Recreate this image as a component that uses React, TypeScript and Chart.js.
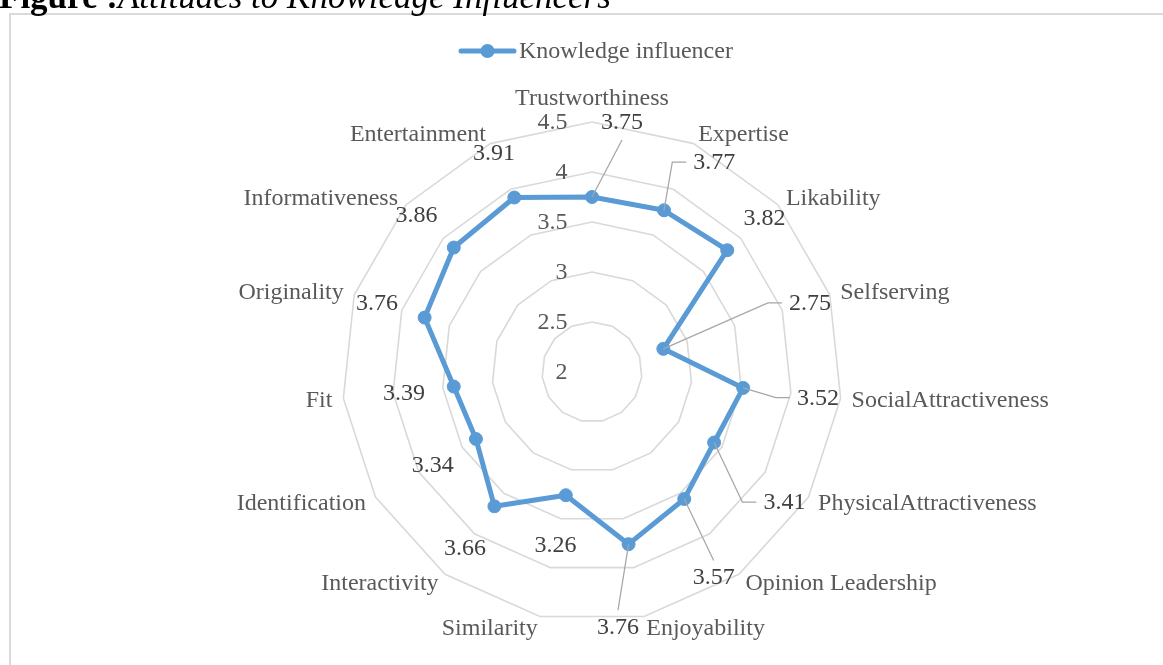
import React, { useEffect, useRef } from "react";
import { Chart, registerables } from "chart.js";

Chart.register(...registerables);

const categories = [
  "Trustworthiness",
  "Expertise",
  "Likability",
  "Selfserving",
  "SocialAttractiveness",
  "PhysicalAttractiveness",
  "Opinion Leadership",
  "Enjoyability",
  "Similarity",
  "Interactivity",
  "Identification",
  "Fit",
  "Originality",
  "Informativeness",
  "Entertainment",
];

const values = [3.75, 3.77, 3.82, 2.75, 3.52, 3.41, 3.57, 3.76, 3.26, 3.66, 3.34, 3.39, 3.76, 3.86, 3.91];

const seriesName = "Knowledge influencer";

const tickValues = [2, 2.5, 3, 3.5, 4, 4.5];

// pixel nudges of the data labels that were dragged away (they get leader lines)
const labelNudges = [
  [30, -26], [30, -3], [0, 0], [99, -31], [25, 4], [27, 34], [0, 37], [-21, 33],
  [0, 0], [0, 0], [0, 0], [0, 0], [0, 0], [0, 0], [0, 0],
];

const FONT = '"Liberation Serif", "Times New Roman", serif';
const SERIES_COLOR = "#5b9bd5";
const GRID_COLOR = "#d9d9d9";
const TEXT_COLOR = "#595959";
const VALUE_COLOR = "#404040";
const LEADER_COLOR = "#a6a6a6";

const overlay = {
  id: "overlay",
  afterDatasetsDraw(chart: any) {
    const ctx = chart.ctx as CanvasRenderingContext2D;
    const scale = chart.scales.r;
    const cx = scale.xCenter;
    const cy = scale.yCenter;
    const n = categories.length;
    ctx.save();

    // tick labels
    ctx.font = `24px ${FONT}`;
    ctx.fillStyle = TEXT_COLOR;
    ctx.textAlign = "right";
    ctx.textBaseline = "middle";
    tickValues.forEach((v) => {
      const r = scale.getDistanceFromCenterForValue(v);
      ctx.fillText(String(v), cx - 24.5, cy - r + 1);
    });

    // category labels
    categories.forEach((name, i) => {
      const angle = (i * 360) / n;
      const p = scale.getPointPosition(i, scale.drawingArea + 11);
      let y = p.y;
      if (angle === 0) {
        ctx.textAlign = "center";
        y -= 13;
      } else if (angle === 180) {
        ctx.textAlign = "center";
        y += 13;
      } else if (angle < 180) {
        ctx.textAlign = "left";
      } else {
        ctx.textAlign = "right";
      }
      ctx.fillStyle = TEXT_COLOR;
      ctx.fillText(name, p.x, y + 1);
    });

    // data labels with leader lines
    const meta = chart.getDatasetMeta(0);
    values.forEach((v, i) => {
      const pt = meta.data[i];
      const base = scale.getPointPosition(i, scale.getDistanceFromCenterForValue(v) + 50);
      const [nx, ny] = labelNudges[i];
      const lx = base.x + nx;
      const ly = base.y + ny + 1.5;
      const text = v.toFixed(2);
      ctx.font = `24px ${FONT}`;
      const w = ctx.measureText(text).width;
      if (nx !== 0 || ny !== 0) {
        const dx = lx - pt.x;
        const dy = ly - pt.y;
        ctx.strokeStyle = LEADER_COLOR;
        ctx.lineWidth = 1.25;
        ctx.beginPath();
        if (Math.abs(dx) > Math.abs(dy)) {
          const s = Math.sign(dx);
          const sx = lx - s * (w / 2 + 7);
          const sy = ly - 1;
          ctx.moveTo(sx, sy);
          ctx.lineTo(sx - s * 14, sy);
          ctx.lineTo(pt.x, pt.y);
        } else {
          const s = Math.sign(dy);
          ctx.moveTo(lx, ly - s * 17.5);
          ctx.lineTo(pt.x, pt.y);
        }
        ctx.stroke();
      }
      ctx.fillStyle = VALUE_COLOR;
      ctx.textAlign = "center";
      ctx.textBaseline = "middle";
      ctx.fillText(text, lx, ly);
    });

    // legend
    const ly = 51;
    ctx.strokeStyle = SERIES_COLOR;
    ctx.lineWidth = 5;
    ctx.lineCap = "round";
    ctx.beginPath();
    ctx.moveTo(461, ly);
    ctx.lineTo(514, ly);
    ctx.stroke();
    ctx.fillStyle = SERIES_COLOR;
    ctx.beginPath();
    ctx.arc(487.5, ly, 7, 0, Math.PI * 2);
    ctx.fill();
    ctx.fillStyle = TEXT_COLOR;
    ctx.textAlign = "left";
    ctx.textBaseline = "middle";
    ctx.font = `24px ${FONT}`;
    ctx.fillText(seriesName, 519, ly + 1);

    ctx.restore();
  },
};

export default function App() {
  const canvasRef = useRef<HTMLCanvasElement | null>(null);

  useEffect(() => {
    const canvas = canvasRef.current;
    if (!canvas) return;
    const chart = new Chart(canvas, {
      type: "radar",
      data: {
        labels: categories,
        datasets: [
          {
            label: seriesName,
            data: values,
            borderColor: SERIES_COLOR,
            backgroundColor: SERIES_COLOR,
            borderWidth: 5,
            borderJoinStyle: "round",
            pointRadius: 6.5,
            pointBorderWidth: 1,
            pointBackgroundColor: SERIES_COLOR,
            pointBorderColor: SERIES_COLOR,
            fill: false,
            tension: 0,
          },
        ],
      },
      options: {
        responsive: false,
        animation: false,
        layout: { padding: { left: 342, right: 321, top: 122, bottom: 43 } },
        plugins: { legend: { display: false }, tooltip: { enabled: false } },
        scales: {
          r: {
            min: 2,
            max: 4.5,
            ticks: { display: false, stepSize: 0.5 },
            grid: { color: GRID_COLOR, lineWidth: 1.6 },
            angleLines: { display: false },
            pointLabels: { display: false },
          },
        },
      } as any,
      plugins: [overlay],
    });
    return () => chart.destroy();
  }, []);

  return (
    <div
      style={{
        position: "fixed",
        left: 0,
        top: 0,
        width: 1163,
        height: 665,
        overflow: "hidden",
        background: "#ffffff",
      }}
    >
      <div
        style={{
          position: "absolute",
          left: 9,
          top: 13,
          width: 1200,
          height: 700,
          borderTop: `2px solid ${GRID_COLOR}`,
          borderLeft: `2px solid ${GRID_COLOR}`,
        }}
      />
      <canvas
        ref={canvasRef}
        width={1163}
        height={665}
        style={{ position: "absolute", left: 0, top: 0, display: "block" }}
      />
      <div
        style={{
          position: "absolute",
          left: -1,
          top: -21,
          fontFamily: FONT,
          fontSize: 35,
          lineHeight: "35px",
          color: "#000",
          whiteSpace: "nowrap",
        }}
      >
        <b>Figure :</b>
        <i>Attitudes to Knowledge Influencers</i>
      </div>
    </div>
  );
}
